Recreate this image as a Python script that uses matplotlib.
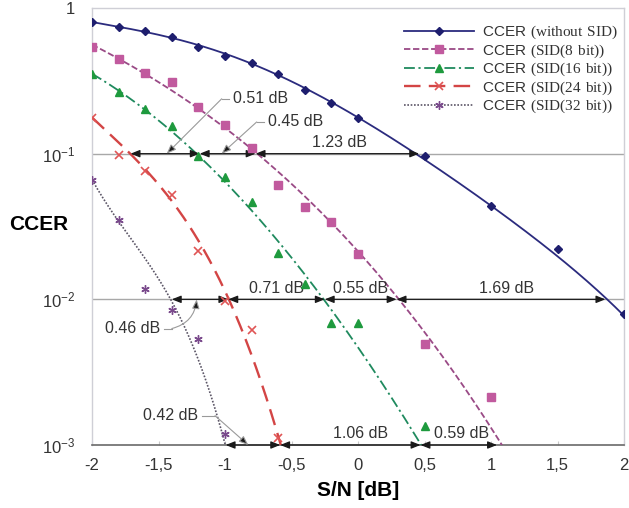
import numpy as np
import matplotlib
matplotlib.use("Agg")
import matplotlib.pyplot as plt

plt.rcParams['font.family'] = ['Liberation Sans', 'DejaVu Sans']
plt.rcParams['mathtext.fontset'] = 'custom'
plt.rcParams['mathtext.rm'] = 'Liberation Serif'
plt.rcParams['mathtext.sf'] = 'Liberation Sans'

# ==================== DATA ====================

# measured points
snr_nosid = [-2, -1.8, -1.6, -1.4, -1.2, -1.0, -0.8, -0.6, -0.4, -0.2, 0, 0.5, 1.0, 1.5, 2.0]
ccer_nosid = [0.805, 0.745, 0.69, 0.63, 0.54, 0.47, 0.42, 0.35, 0.275, 0.222, 0.176,
              0.097, 0.0435, 0.0222, 0.0079]

snr_8 = [-2, -1.8, -1.6, -1.4, -1.2, -1.0, -0.8, -0.6, -0.4, -0.2, 0, 0.5, 1.0]
ccer_8 = [0.543, 0.445, 0.36, 0.31, 0.209, 0.158, 0.109, 0.0613, 0.043, 0.034, 0.0206,
          0.0049, 0.00214]

snr_16 = [-2, -1.8, -1.6, -1.4, -1.2, -1.0, -0.8, -0.6, -0.4, -0.2, 0, 0.5]
ccer_16 = [0.353, 0.263, 0.203, 0.154, 0.097, 0.069, 0.0467, 0.0209, 0.0127, 0.0069,
           0.0069, 0.00136]

snr_24 = [-2, -1.8, -1.6, -1.4, -1.2, -1.0, -0.8, -0.6]
ccer_24 = [0.176, 0.098, 0.0757, 0.0524, 0.0214, 0.0098, 0.0062, 0.00111]

snr_32 = [-2, -1.8, -1.6, -1.4, -1.2, -1.0]
ccer_32 = [0.066, 0.0353, 0.0117, 0.0085, 0.0053, 0.00119]

# trend curve readings
trend_x_nosid = [-2, -1.6, -1.2, -0.8, -0.4, 0, 0.46, 1.0, 1.5, 1.86, 2.0]
trend_y_nosid = [0.8, 0.69, 0.55, 0.42, 0.28, 0.175, 0.1, 0.042, 0.0205, 0.01, 0.0078]

trend_x_8 = [-2, -1.6, -1.2, -0.77, -0.2, 0, 0.29, 0.48, 0.816, 1.05]
trend_y_8 = [0.55, 0.36, 0.21, 0.1, 0.034, 0.0206, 0.01, 0.0062, 0.00283, 0.001]

trend_x_16 = [-2, -1.6, -1.2, -0.84, -0.54, -0.25, -0.12, 0.19, 0.465]
trend_y_16 = [0.353, 0.2, 0.097, 0.046, 0.0209, 0.01, 0.0062, 0.00283, 0.001]

trend_x_24 = [-2, -1.71, -1.414, -1.19, -0.975, -0.81, -0.585]
trend_y_24 = [0.176, 0.1, 0.0524, 0.022, 0.01, 0.0048, 0.001]

trend_x_32 = [-2, -1.8, -1.614, -1.40, -1.29, -1.113, -0.995]
trend_y_32 = [0.066, 0.0353, 0.0188, 0.01, 0.0062, 0.00218, 0.001]

# S/N where the curves cross each CCER level, and the gaps between them
levels = [1e-1, 1e-2, 1e-3]
crossings = [
    [-1.71, -1.19, -0.77, 0.46],
    [-1.40, -0.975, -0.25, 0.29, 1.86],
    [-0.995, -0.585, 0.47, 1.045],
]
gap_labels = [
    ['0.51 dB', '0.45 dB', '1.23 dB'],
    ['0.46 dB', '0.71 dB', '0.55 dB', '1.69 dB'],
    ['0.42 dB', '1.06 dB', '0.59 dB'],
]

x_ticks = [-2, -1.5, -1, -0.5, 0, 0.5, 1, 1.5, 2]
x_ticklabels = ['-2', '-1,5', '-1', '-0,5', '0', '0,5', '1', '1,5', '2']
y_ticks = [1, 1e-1, 1e-2, 1e-3]
y_ticklabels = ['1', r'$\mathsf{10^{-1}}$', r'$\mathsf{10^{-2}}$', r'$\mathsf{10^{-3}}$']

legend_labels = [
    r'$\mathsf{CCER}\ \mathrm{(without\ SID)}$',
    r'$\mathsf{CCER}\ \mathrm{(SID(8\ bit))}$',
    r'$\mathsf{CCER}\ \mathrm{(SID(16\ bit))}$',
    r'$\mathsf{CCER}\ \mathrm{(SID(24\ bit))}$',
    r'$\mathsf{CCER}\ \mathrm{(SID(32\ bit))}$',
]


def trend_line(ax, tx, ty, x_end, deg=3, **kw):
    """Kurva tren: polinom pada log10(CCER)"""
    coef = np.polyfit(tx, np.log10(ty), deg)
    xs = np.linspace(tx[0], x_end, 300)
    ax.plot(xs, 10 ** np.polyval(coef, xs), **kw)


def gap_arrow(ax, x1, x2, y):
    ax.annotate('', xy=(x2, y), xytext=(x1, y),
                arrowprops=dict(arrowstyle='<|-|>,head_length=0.55,head_width=0.22',
                                color='#1a1a1a', lw=0.9, shrinkA=0, shrinkB=0,
                                mutation_scale=10), annotation_clip=False)


def callout(ax, text, text_xy, ha, corner, tip, rad=0.0):
    ax.text(text_xy[0], text_xy[1], text, ha=ha, va='center', fontsize=11.5, color='#333333')
    start_x = text_xy[0] - 0.03 if ha == 'left' else text_xy[0] + 0.03
    ax.plot([start_x, corner[0]], [text_xy[1], corner[1]], color='#9a9a9a', lw=0.8)
    ax.annotate('', xy=tip, xytext=corner,
                arrowprops=dict(arrowstyle='-|>,head_length=0.55,head_width=0.22',
                                fc='#1a1a1a', ec='#9a9a9a', lw=0.8, shrinkA=0, shrinkB=0,
                                mutation_scale=10, connectionstyle='arc3,rad=%s' % rad),
                annotation_clip=False)


# ==================== PLOT ====================

fig = plt.figure(figsize=(6.29, 5.08), dpi=100)
ax = fig.add_axes([92 / 629, 1 - 445 / 508, 532 / 629, 437 / 508])
ax.set_yscale('log')
ax.set_xlim(-2, 2)
ax.set_ylim(1e-3, 1)

# garis level CCER
for lvl in [1e-1, 1e-2]:
    ax.axhline(lvl, color='#a8a8a8', lw=1.0, zorder=1)

styles = [
    dict(color='#2b2b7e', ls='-', lw=1.3),
    dict(color='#9a4a86', ls=(0, (3.5, 1.5)), lw=1.3),
    dict(color='#1f8a5e', ls=(0, (6, 2, 1.2, 2)), lw=1.3),
    dict(color='#d34545', ls=(0, (7, 3.5)), lw=1.7),
    dict(color='#5b5566', ls=(0, (1, 1)), lw=1.2),
]
markers = [
    dict(marker='D', ms=4.5, color='#1e1e6e'),
    dict(marker='s', ms=6, color='#c15a9e'),
    dict(marker='^', ms=6, color='#1e9a3e'),
    dict(marker='x', ms=6, mew=1.2, color='#e05555'),
    dict(marker=(6, 2, 0), ms=6, mew=1.0, color='#7a4a8c'),
]

trends = [
    (trend_x_nosid, trend_y_nosid, 2.0, 5),
    (trend_x_8, trend_y_8, 1.1, 3),
    (trend_x_16, trend_y_16, 0.52, 3),
    (trend_x_24, trend_y_24, -0.55, 3),
    (trend_x_32, trend_y_32, -0.97, 3),
]
points = [
    (snr_nosid, ccer_nosid),
    (snr_8, ccer_8),
    (snr_16, ccer_16),
    (snr_24, ccer_24),
    (snr_32, ccer_32),
]

for (tx, ty, x_end, deg), st in zip(trends, styles):
    trend_line(ax, tx, ty, x_end, deg=deg, zorder=3, **st)
for (px, py), mk in zip(points, markers):
    ax.plot(px, py, ls='none', zorder=4, **mk)

# panah selisih S/N pada tiap level
for lvl, xs in zip(levels, crossings):
    for x1, x2 in zip(xs[:-1], xs[1:]):
        gap_arrow(ax, x1, x2, lvl)

# label langsung di atas garis
inline = [
    (gap_labels[0][2], -0.14, 1e-1),
    (gap_labels[1][1], -0.61, 1e-2),
    (gap_labels[1][2], 0.02, 1e-2),
    (gap_labels[1][3], 1.12, 1e-2),
    (gap_labels[2][1], 0.02, 1e-3),
    (gap_labels[2][2], 0.78, 1e-3),
]
for txt, x, y in inline:
    ax.text(x, y * 1.06, txt, ha='center', va='bottom', fontsize=11.5, color='#333333')

# label dengan garis penunjuk
callout(ax, gap_labels[0][0], (-0.94, 0.238), 'left', (-1.025, 0.238), (-1.438, 0.1))
callout(ax, gap_labels[0][1], (-0.677, 0.165), 'left', (-0.762, 0.165), (-1.025, 0.1))
callout(ax, gap_labels[1][0], (-1.489, 0.0063), 'right', (-1.40, 0.0063), (-1.213, 0.01), rad=0.35)
callout(ax, gap_labels[2][0], (-1.201, 0.00159), 'right', (-1.075, 0.00159), (-0.825, 0.001))

# sumbu
ax.set_xticks(x_ticks)
ax.set_xticklabels(x_ticklabels)
ax.set_yticks(y_ticks)
ax.set_yticklabels(y_ticklabels)
ax.minorticks_off()
ax.tick_params(axis='x', direction='in', length=3, color='#c8c8c8', pad=9,
               labelsize=12, labelcolor='#333333')
ax.tick_params(axis='y', length=0, pad=12, labelsize=12, labelcolor='#333333')
for side in ['top', 'left', 'right']:
    ax.spines[side].set_color('#cfcfd6')
    ax.spines[side].set_linewidth(1.0)
ax.spines['bottom'].set_color('#6a6a6a')
ax.spines['bottom'].set_linewidth(1.2)

ax.set_xlabel('S/N [dB]', fontsize=15, fontweight='bold', labelpad=6)
ax.set_ylabel('CCER', fontsize=15, fontweight='bold', rotation=0, va='center', ha='center')
ax.yaxis.set_label_coords(-0.101, 0.505)

handles = []
for st, mk in zip(styles, markers):
    m = dict(mk)
    c = m.pop('color')
    handles.append(plt.Line2D([0, 0.5, 1], [0, 0, 0], markevery=[1], mfc=c, mec=c, **st, **m))
leg = ax.legend(handles, legend_labels, loc='upper right', bbox_to_anchor=(1.0, 0.978),
                frameon=False, fontsize=11, handlelength=4.6, handletextpad=0.5,
                labelspacing=0.08, borderaxespad=0.2, borderpad=0.2)
for t in leg.get_texts():
    t.set_color('#333333')

fig.savefig('out.png', dpi=100)
